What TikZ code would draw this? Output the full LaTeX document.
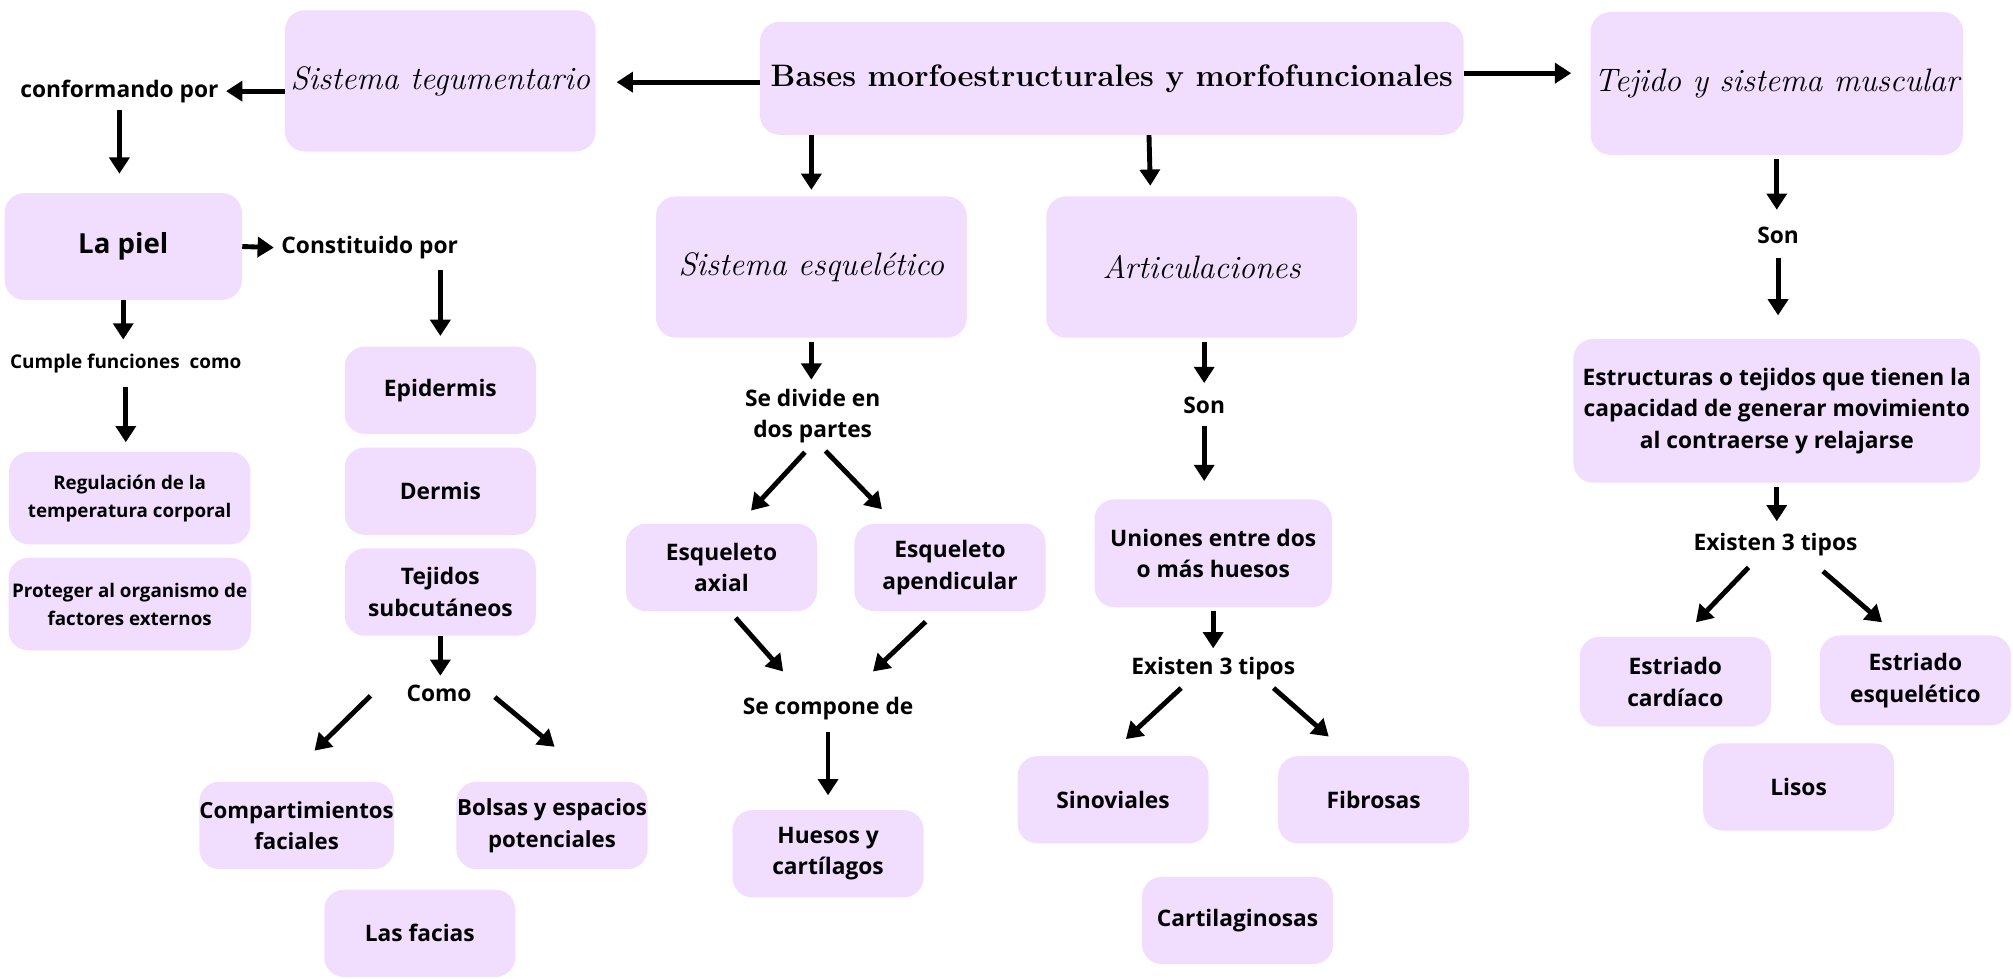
\documentclass[tikz,border=0pt]{standalone}
\usepackage{fontspec}
\setsansfont{Open Sans}
\usetikzlibrary{arrows.meta,positioning}
\definecolor{boxlilac}{RGB}{241,221,253}
\tikzset{lilacbox/.style={fill=boxlilac,rounded corners=11pt,align=center,inner sep=2pt,
        font=\sffamily\bfseries\fontsize{12.6}{17.5}\selectfont},
    smallbox/.style={lilacbox,minimum width=3.72cm,minimum height=1.7cm},
    headbox/.style={lilacbox,minimum width=6.05cm,minimum height=2.75cm,
        font=\itshape\fontsize{18}{22}\selectfont},
    linkword/.style={align=center,inner sep=2pt,font=\sffamily\bfseries\fontsize{12.6}{17.5}\selectfont},
    fatarrow/.style={-{Triangle[length=9pt,width=11pt]},line width=2.7pt}
}
\begin{document}
\begin{tikzpicture}[x=0.025cm,y=-0.025cm]
\useasboundingbox (0,0) rectangle (1568,762);

% top row
\node (bases) [lilacbox,minimum width=13.7cm,minimum height=2.2cm,
    font=\bfseries\fontsize{17.2}{21}\selectfont] at (866,61) {Bases morfoestructurales y morfofuncionales};
\node (tegum) [headbox] at (343,63) {Sistema tegumentario};
\node (muscular) [headbox,minimum width=7.2cm,minimum height=2.78cm] at (1384,65) {Tejido y sistema muscular};
\node (conformando) [linkword] at (93,71) {conformando por};

% sistema tegumentario
\node (piel) [lilacbox,minimum width=4.62cm,minimum height=2.08cm,
    font=\sffamily\bfseries\fontsize{15.3}{19}\selectfont] at (96,192) {La piel};
\node (constituido) [linkword] at (288,193) {Constituido por};
\node (cumple) [linkword,font=\sffamily\bfseries\fontsize{10.5}{14}\selectfont] at (98,283) {Cumple funciones~ como};
\node (regulacion) [lilacbox,minimum width=4.7cm,minimum height=1.8cm,
    font=\sffamily\bfseries\fontsize{10.4}{15.5}\selectfont] at (101,388) {Regulación de la\\temperatura corporal};
\node (proteger) [lilacbox,minimum width=4.7cm,minimum height=1.8cm,below=0.25cm of regulacion,
    font=\sffamily\bfseries\fontsize{10.4}{15.5}\selectfont] {Proteger al organismo de\\factores externos};
\node (epidermis) [smallbox] at (343,304) {Epidermis};
\node (dermis) [smallbox,below=0.25cm of epidermis] {Dermis};
\node (subcutaneos) [smallbox,below=0.25cm of dermis] {Tejidos\\subcutáneos};
\node (como) [linkword] at (342,540) {Como};
\node (compart) [smallbox,inner xsep=0pt,font=\sffamily\bfseries\fontsize{12.3}{17.5}\selectfont] at (231,643) {Compartimientos\\faciales};
\node (bolsas) [smallbox,inner xsep=0pt,font=\sffamily\bfseries\fontsize{12.3}{17.5}\selectfont] at (430,643) {Bolsas y espacios\\potenciales};
\node (facias) [smallbox] at (327,727) {Las facias};

% sistema esqueletico
\node (esqueletico) [headbox] at (632,208) {Sistema esquelético};
\node (divide) [linkword] at (633,324) {Se divide en\\dos partes};
\node (axial) [smallbox] at (562,442) {Esqueleto\\axial};
\node (apendicular) [smallbox] at (740,442) {Esqueleto\\apendicular};
\node (compone) [linkword] at (645,552) {Se compone de};
\node (huesos) [smallbox] at (645,665) {Huesos y\\cartílagos};

% articulaciones
\node (articulaciones) [headbox] at (936,208) {Articulaciones};
\node (sonart) [linkword] at (938,316) {Son};
\node (uniones) [lilacbox,minimum width=4.62cm,minimum height=2.1cm] at (945,431) {Uniones entre dos\\o más huesos};
\node (tiposart) [linkword] at (945,521) {Existen 3 tipos};
\node (sinoviales) [smallbox] at (867,623) {Sinoviales};
\node (fibrosas) [smallbox] at (1070,623) {Fibrosas};
\node (cartilag) [smallbox] at (964,717) {Cartilaginosas};

% tejido muscular
\node (sonmus) [linkword] at (1385,183) {Son};
\node (estructuras) [lilacbox,minimum width=7.92cm,minimum height=2.8cm] at (1384,320)
    {Estructuras o tejidos que tienen la\\capacidad de generar movimiento\\al contraerse y relajarse};
\node (tiposmus) [linkword] at (1383,424) {Existen 3 tipos};
\node (cardiaco) [smallbox,minimum height=1.75cm] at (1305,531) {Estriado\\cardíaco};
\node (esqueletmus) [smallbox,minimum height=1.75cm] at (1492,530) {Estriado\\esquelético};
\node (lisos) [smallbox] at (1401,613) {Lisos};

% arrows
\draw [fatarrow,shorten >=0.4cm] ([shift={(0,3)}]bases.west) -- ([shift={(0,3)}]bases.west -| tegum.east);
\draw [fatarrow,shorten >=2pt] (tegum.west |- conformando) -- (conformando.east);
\draw [fatarrow,shorten >=0.37cm] ([shift={(0,-4)}]bases.east) -- ([shift={(0,-4)}]bases.east -| muscular.west);
\draw [fatarrow,shorten <=2pt,shorten >=0.37cm] (conformando.south) -- (conformando.south |- piel.north);
\draw [fatarrow,shorten >=2pt] (piel.east) -- (constituido.west);
\draw [fatarrow,shorten <=4pt,shorten >=0.2cm] (constituido.south -| epidermis.north) -- (epidermis.north);
\draw [fatarrow,shorten >=0.2cm] (piel.south) -- (piel.south |- cumple.north);
\draw [fatarrow,shorten <=0.2cm,shorten >=0.18cm] (cumple.south) -- (cumple.south |- regulacion.north);
\draw [fatarrow,shorten >=0.1cm] (subcutaneos.south) -- (subcutaneos.south |- como.north);
\draw [fatarrow] ([shift={(-25,2)}]como.west) -- ([shift={(14,-24)}]compart.north);
\draw [fatarrow] ([shift={(15,3)}]como.east) -- ([shift={(2,-27)}]bolsas.north);

\draw [fatarrow,shorten >=0.12cm] (bases.south -| esqueletico.north) -- (esqueletico.north);
\draw [fatarrow] ([shift={(29,0)}]bases.south) -- ([shift={(-40,-8)}]articulaciones.north);
\draw [fatarrow,shorten <=2pt,shorten >=0.1cm] (esqueletico.south) -- (esqueletico.south |- divide.north);
\draw [fatarrow] ([shift={(-6,4)}]divide.south) -- ([shift={(23,-10)}]axial.north);
\draw [fatarrow] ([shift={(10,3)}]divide.south) -- ([shift={(-53,-11)}]apendicular.north);
\draw [fatarrow] ([shift={(11,5)}]axial.south) -- ([shift={(-35,-17)}]compone.north);
\draw [fatarrow] ([shift={(-19,8)}]apendicular.south) -- ([shift={(35,-17)}]compone.north);
\draw [fatarrow,shorten <=0.15cm,shorten >=0.28cm] (compone.south) -- (compone.south |- huesos.north);

\draw [fatarrow,shorten <=2pt,shorten >=0.2cm] (articulaciones.south -| sonart.north) -- (sonart.north);
\draw [fatarrow,shorten <=0.15cm,shorten >=0.35cm] (sonart.south) -- (sonart.south |- uniones.north);
\draw [fatarrow,shorten <=2pt,shorten >=0.1cm] (uniones.south) -- (uniones.south |- tiposart.north);
\draw [fatarrow] ([shift={(-25,3)}]tiposart.south) -- ([shift={(10,-13)}]sinoviales.north);
\draw [fatarrow] ([shift={(47,3)}]tiposart.south) -- ([shift={(-35,-15)}]fibrosas.north);

\draw [fatarrow,shorten <=2pt,shorten >=0.25cm] (muscular.south) -- (muscular.south |- sonmus.north);
\draw [fatarrow,shorten <=0.2cm,shorten >=0.45cm] (sonmus.south) -- (sonmus.south |- estructuras.north);
\draw [fatarrow,shorten <=2pt,shorten >=0.15cm] (estructuras.south) -- (estructuras.south |- tiposmus.north);
\draw [fatarrow] ([shift={(-21,6)}]tiposmus.south) -- ([shift={(16,-11)}]cardiaco.north);
\draw [fatarrow] ([shift={(37,9)}]tiposmus.south) -- ([shift={(-26,-10)}]esqueletmus.north);

\end{tikzpicture}
\end{document}
